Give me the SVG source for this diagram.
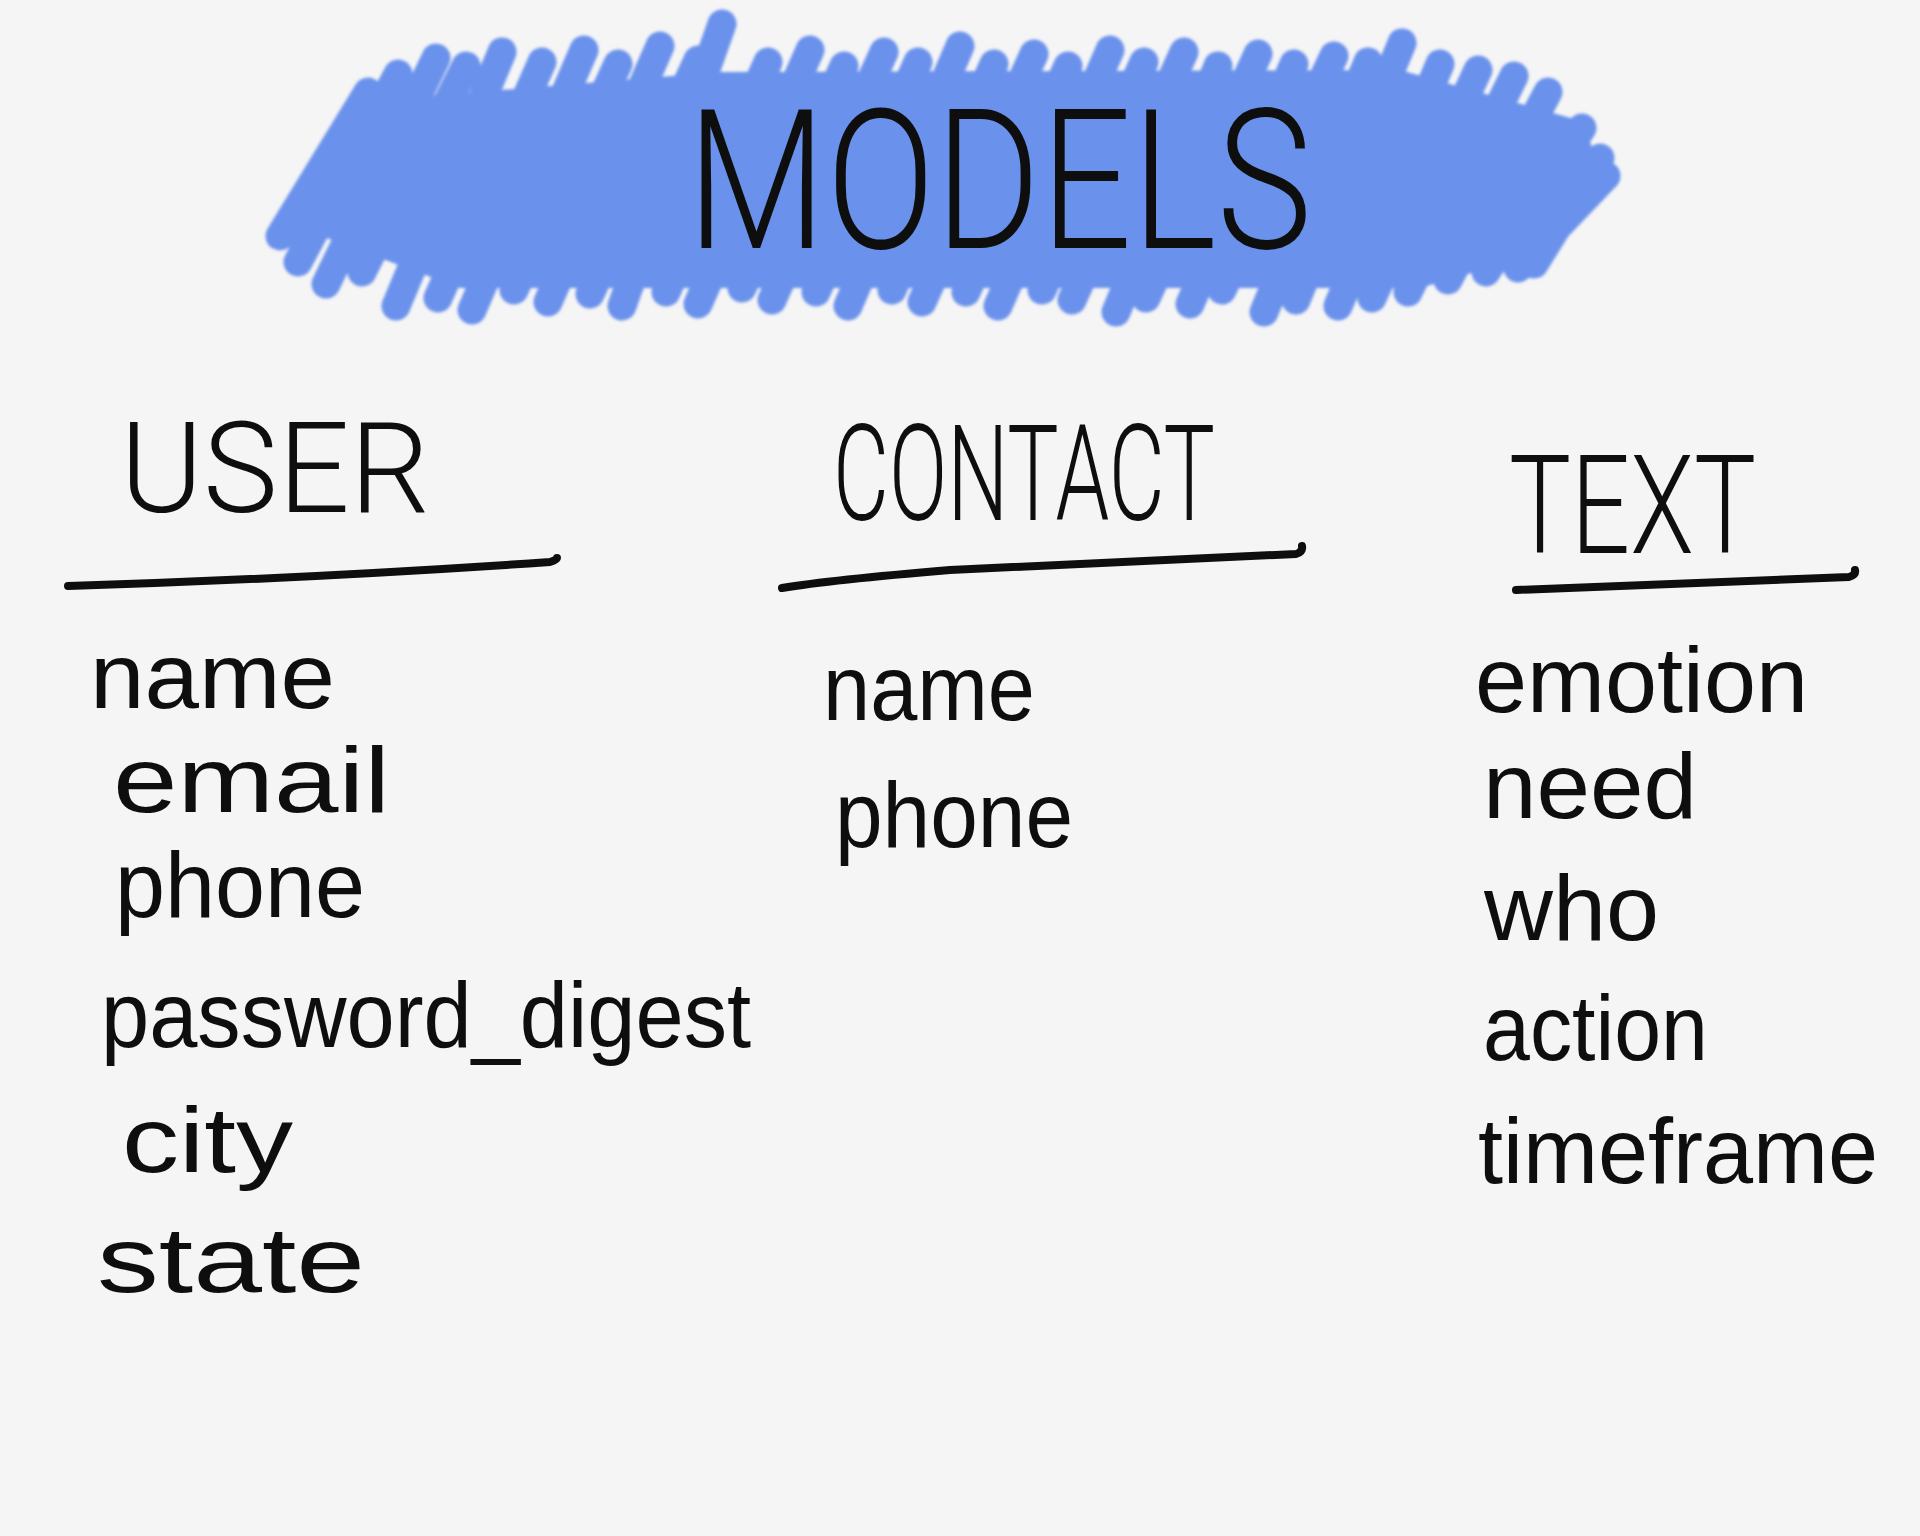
<svg xmlns="http://www.w3.org/2000/svg" width="1920" height="1536" viewBox="0 0 1920 1536">
<defs>
<filter id="soft" x="-5%" y="-10%" width="110%" height="120%"><feGaussianBlur stdDeviation="1.8"/></filter>
</defs>
<style>
.ink{font-family:"Liberation Sans",Arial,sans-serif;fill:#0e0e0e}
.lt{font-family:Roboto,"Liberation Sans",Arial,sans-serif;font-weight:300;fill:#0e0e0e}
.f{font-size:92px}
.ul{fill:none;stroke:#0e0e0e;stroke-width:8;stroke-linecap:round;stroke-linejoin:round}
.sc{stroke:#6a92ec;stroke-width:29;stroke-linecap:round;fill:none}
</style>
<rect width="1920" height="1536" fill="#f5f5f5"/>
<g id="title">
<g id="scribble" filter="url(#soft)">
<polygon points="292,225 380,100 720,72 1400,70 1585,122 1598,172 1530,256 1420,288 460,288" fill="#6a92ec"/>
<path class="sc" d="M280,236 L368,92 M298,262 L398,74 M326,284 L436,58 M362,272 L466,66 M396,306 L502,52 M438,298 L542,62 M472,310 L584,50 M514,290 L618,64 M548,302 L660,46 M590,294 L698,60 M622,306 L722,24 M666,292 L768,62 M698,304 L810,50 M742,288 L844,66 M772,300 L884,52 M816,292 L918,62 M848,306 L960,46 M892,290 L994,64 M922,302 L1034,54 M966,292 L1068,66 M998,306 L1110,50 M1042,290 L1144,62 M1072,300 L1184,52 M1116,312 L1218,66 M1146,298 L1258,54 M1190,304 L1294,64 M1222,290 L1334,56 M1264,312 L1368,62 M1296,300 L1402,43 M1338,306 L1440,64 M1372,298 L1478,70 M1408,292 L1514,76 M1448,280 L1548,92 M1486,272 L1582,128 M1518,268 L1606,176 M1534,264 L1600,158"/>
</g>
<text class="lt" x="687" y="248" font-size="195" textLength="625" lengthAdjust="spacingAndGlyphs">MODELS</text>
</g>
<g id="user">
<text class="lt" x="120" y="512" font-size="127" textLength="310" lengthAdjust="spacingAndGlyphs">USER</text>
<path class="ul" d="M68,586 Q300,579 550,562 Q557,560 557,558"/>
<text class="ink f" x="90" y="708" textLength="245" lengthAdjust="spacingAndGlyphs">name</text>
<text class="ink f" x="113" y="812" textLength="277" lengthAdjust="spacingAndGlyphs">email</text>
<text class="ink f" x="115" y="917" textLength="250" lengthAdjust="spacingAndGlyphs">phone</text>
<text class="ink f" x="101" y="1047" textLength="650" lengthAdjust="spacingAndGlyphs">password_digest</text>
<text class="ink f" x="122" y="1172" textLength="171" lengthAdjust="spacingAndGlyphs">city</text>
<text class="ink f" x="97" y="1292" textLength="268" lengthAdjust="spacingAndGlyphs">state</text>
</g>
<g id="contact">
<text class="lt" x="833" y="520" font-size="133" textLength="382" lengthAdjust="spacingAndGlyphs">CONTACT</text>
<path class="ul" d="M782,588 Q830,580 950,570 L1296,554 Q1303,552 1302,546"/>
<text class="ink f" x="823" y="720" textLength="212" lengthAdjust="spacingAndGlyphs">name</text>
<text class="ink f" x="835" y="847" textLength="238" lengthAdjust="spacingAndGlyphs">phone</text>
</g>
<g id="text">
<text class="lt" x="1509" y="553" font-size="137" textLength="247" lengthAdjust="spacingAndGlyphs">TEXT</text>
<path class="ul" d="M1516,590 L1849,577 Q1856,575 1855,570"/>
<text class="ink f" x="1475" y="712" textLength="333" lengthAdjust="spacingAndGlyphs">emotion</text>
<text class="ink f" x="1483" y="818" textLength="214" lengthAdjust="spacingAndGlyphs">need</text>
<text class="ink f" x="1484" y="940" textLength="175" lengthAdjust="spacingAndGlyphs">who</text>
<text class="ink f" x="1483" y="1060" textLength="225" lengthAdjust="spacingAndGlyphs">action</text>
<text class="ink f" x="1478" y="1183" textLength="400" lengthAdjust="spacingAndGlyphs">timeframe</text>
</g>
</svg>
